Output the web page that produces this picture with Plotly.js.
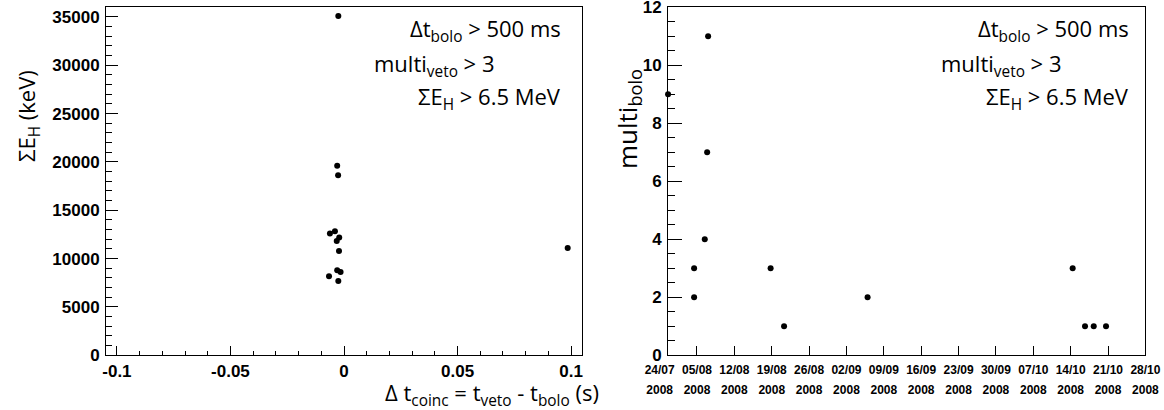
<!DOCTYPE html>
<html>
<head>
<meta charset="utf-8">
<script src="https://cdn.plot.ly/plotly-3.0.1.min.js"></script>
<style>html,body{margin:0;padding:0;background:#fff;}#chart{width:1164px;height:410px;}</style>
</head>
<body>
<div id="chart"></div>
<script>
// ---- Left panel data: Δt_coinc (s) vs ΣE_H (keV)
const leftDt = [-0.0025, -0.0030, -0.0026, -0.0062, -0.0040, -0.0021, -0.0032, -0.0022, -0.0066, -0.0030, -0.0015, -0.0025, 0.0985];
const leftE  = [35100, 19600, 18630, 12600, 12840, 12180, 11830, 10800, 8180, 8800, 8620, 7690, 11100];
const leftXTickVals = [-0.1, -0.05, 0, 0.05, 0.1];
const leftXTickText = ['-0.1', '-0.05', '0', '0.05', '0.1'];
const leftYTickVals = [0, 5000, 10000, 15000, 20000, 25000, 30000, 35000];
const leftYTickText = ['0', '5000', '10000', '15000', '20000', '25000', '30000', '35000'];

// ---- Right panel data: date vs multi_bolo
const dates = ['2008-07-30 14:00','2008-08-04 11:00','2008-08-04 11:00','2008-08-06 11:00','2008-08-06 21:40','2008-08-07 02:00','2008-08-18 19:00','2008-08-21 07:30','2008-09-05 23:00','2008-10-14 09:00','2008-10-16 16:30','2008-10-18 07:40','2008-10-20 15:00'];
const multiBolo = [9, 3, 2, 4, 7, 11, 3, 1, 2, 3, 1, 1, 1];
const rightYTickVals = [0, 2, 4, 6, 8, 10, 12];
const dateTickVals = ['2008-07-30 13:40','2008-08-05','2008-08-12','2008-08-19','2008-08-26','2008-09-02','2008-09-09','2008-09-16','2008-09-23','2008-09-30','2008-10-07','2008-10-14','2008-10-21','2008-10-28'];
const dateTickDay = ['24/07','05/08','12/08','19/08','26/08','02/09','09/09','16/09','23/09','30/09','07/10','14/10','21/10','28/10'];
const dateTickYear = ['2008','2008','2008','2008','2008','2008','2008','2008','2008','2008','2008','2008','2008','2008'];

const W = 1164, H = 410;
const px = v => v / W;
const py = v => 1 - v / H;

// two-line date labels; first label (at the frame corner) nudged left like the reference
const sp = (s, i) => '<span style="font-size:12px">' + s + (i === 0 ? '\u00a0\u00a0\u00a0\u00a0\u00a0' : '') + '</span>';
const dateTickText = dateTickDay.map((d, i) => sp(d, i) + '<br>' + sp(dateTickYear[i], i));

const tickFont = {family: 'Liberation Sans, Arial, sans-serif', size: 17, color: '#000', weight: 'bold'};
const dateFont = {family: 'Liberation Sans, Arial, sans-serif', size: 15, color: '#000', weight: 'bold'};
const txtFont = {family: 'Open Sans, sans-serif', size: 22, color: '#000'};

const traces = [
  {x: leftDt, y: leftE, type: 'scatter', mode: 'markers', xaxis: 'x', yaxis: 'y',
   marker: {color: '#000', size: 6}, cliponaxis: false, hoverinfo: 'x+y'},
  {x: dates, y: multiBolo, type: 'scatter', mode: 'markers', xaxis: 'x2', yaxis: 'y2',
   marker: {color: '#000', size: 6}, cliponaxis: false, hoverinfo: 'x+y'}
];

const axBase = {showline: true, linecolor: '#000', linewidth: 1, mirror: true, zeroline: false,
  showgrid: false, ticks: 'inside', tickcolor: '#000', tickwidth: 1, tickangle: 0};

const layout = {
  width: W, height: H, margin: {l: 0, r: 0, t: 0, b: 0},
  paper_bgcolor: '#fff', plot_bgcolor: '#fff', showlegend: false,
  xaxis: Object.assign({}, axBase, {
    domain: [px(106), px(582)], range: [-0.1048, 0.1048], anchor: 'y',
    tickmode: 'array', tickvals: leftXTickVals, ticktext: leftXTickText, ticklen: 9,
    minor: {dtick: 0.01, tick0: 0, ticks: 'inside', ticklen: 4, tickcolor: '#000', showgrid: false},
    tickfont: tickFont, ticklabelstandoff: 0
  }),
  yaxis: Object.assign({}, axBase, {
    domain: [py(355.3), py(7.3)], range: [0, 36000], anchor: 'x',
    tickmode: 'array', tickvals: leftYTickVals, ticktext: leftYTickText, ticklen: 12,
    minor: {dtick: 1000, tick0: 0, ticks: 'inside', ticklen: 6, tickcolor: '#000', showgrid: false},
    tickfont: tickFont, ticklabelstandoff: 2
  }),
  xaxis2: Object.assign({}, axBase, {
    type: 'date', domain: [px(668), px(1145.4)], range: ['2008-07-30 13:40', '2008-10-28 00:00'], anchor: 'y2',
    tickmode: 'array', tickvals: dateTickVals, ticktext: dateTickText, ticklen: 9,
    tickfont: dateFont, ticklabelstandoff: 0
  }),
  yaxis2: Object.assign({}, axBase, {
    domain: [py(355.3), py(7.3)], range: [0, 12], anchor: 'x2',
    tickmode: 'array', tickvals: rightYTickVals, ticklen: 14,
    minor: {dtick: 0.5, tick0: 0, ticks: 'inside', ticklen: 7, tickcolor: '#000', showgrid: false},
    tickfont: tickFont, ticklabelstandoff: 2
  }),
  annotations: [
    // left panel cut labels
    {xref: 'paper', yref: 'paper', x: px(563), y: py(30), xanchor: 'right', yanchor: 'middle', showarrow: false,
     text: 'Δt<sub>bolo</sub> > 500 ms', font: txtFont},
    {xref: 'paper', yref: 'paper', x: px(496), y: py(65), xanchor: 'right', yanchor: 'middle', showarrow: false,
     text: 'multi<sub>veto</sub> > 3', font: txtFont},
    {xref: 'paper', yref: 'paper', x: px(563), y: py(98), xanchor: 'right', yanchor: 'middle', showarrow: false,
     text: 'ΣE<sub>H</sub> > 6.5 MeV', font: txtFont},
    // right panel cut labels
    {xref: 'paper', yref: 'paper', x: px(1131), y: py(30), xanchor: 'right', yanchor: 'middle', showarrow: false,
     text: 'Δt<sub>bolo</sub> > 500 ms', font: txtFont},
    {xref: 'paper', yref: 'paper', x: px(1063), y: py(65), xanchor: 'right', yanchor: 'middle', showarrow: false,
     text: 'multi<sub>veto</sub> > 3', font: txtFont},
    {xref: 'paper', yref: 'paper', x: px(1131), y: py(98), xanchor: 'right', yanchor: 'middle', showarrow: false,
     text: 'ΣE<sub>H</sub> > 6.5 MeV', font: txtFont},
    // axis titles
    {xref: 'paper', yref: 'paper', x: px(601), y: py(394), xanchor: 'right', yanchor: 'middle', showarrow: false,
     text: 'Δ t<sub>coinc</sub> = t<sub>veto</sub> - t<sub>bolo</sub> (s)', font: txtFont},
    {xref: 'paper', yref: 'paper', x: px(28), y: py(116), xanchor: 'center', yanchor: 'middle', showarrow: false,
     textangle: -90, text: 'ΣE<sub>H</sub> (keV)', font: {family: 'Open Sans, sans-serif', size: 22, color: '#000'}},
    {xref: 'paper', yref: 'paper', x: px(628), y: py(119), xanchor: 'center', yanchor: 'middle', showarrow: false,
     textangle: -90, text: 'multi<sub>bolo</sub>', font: {family: 'Open Sans, sans-serif', size: 26, color: '#000'}}
  ]
};

Plotly.newPlot('chart', traces, layout, {displayModeBar: false, staticPlot: true});
</script>
</body>
</html>
